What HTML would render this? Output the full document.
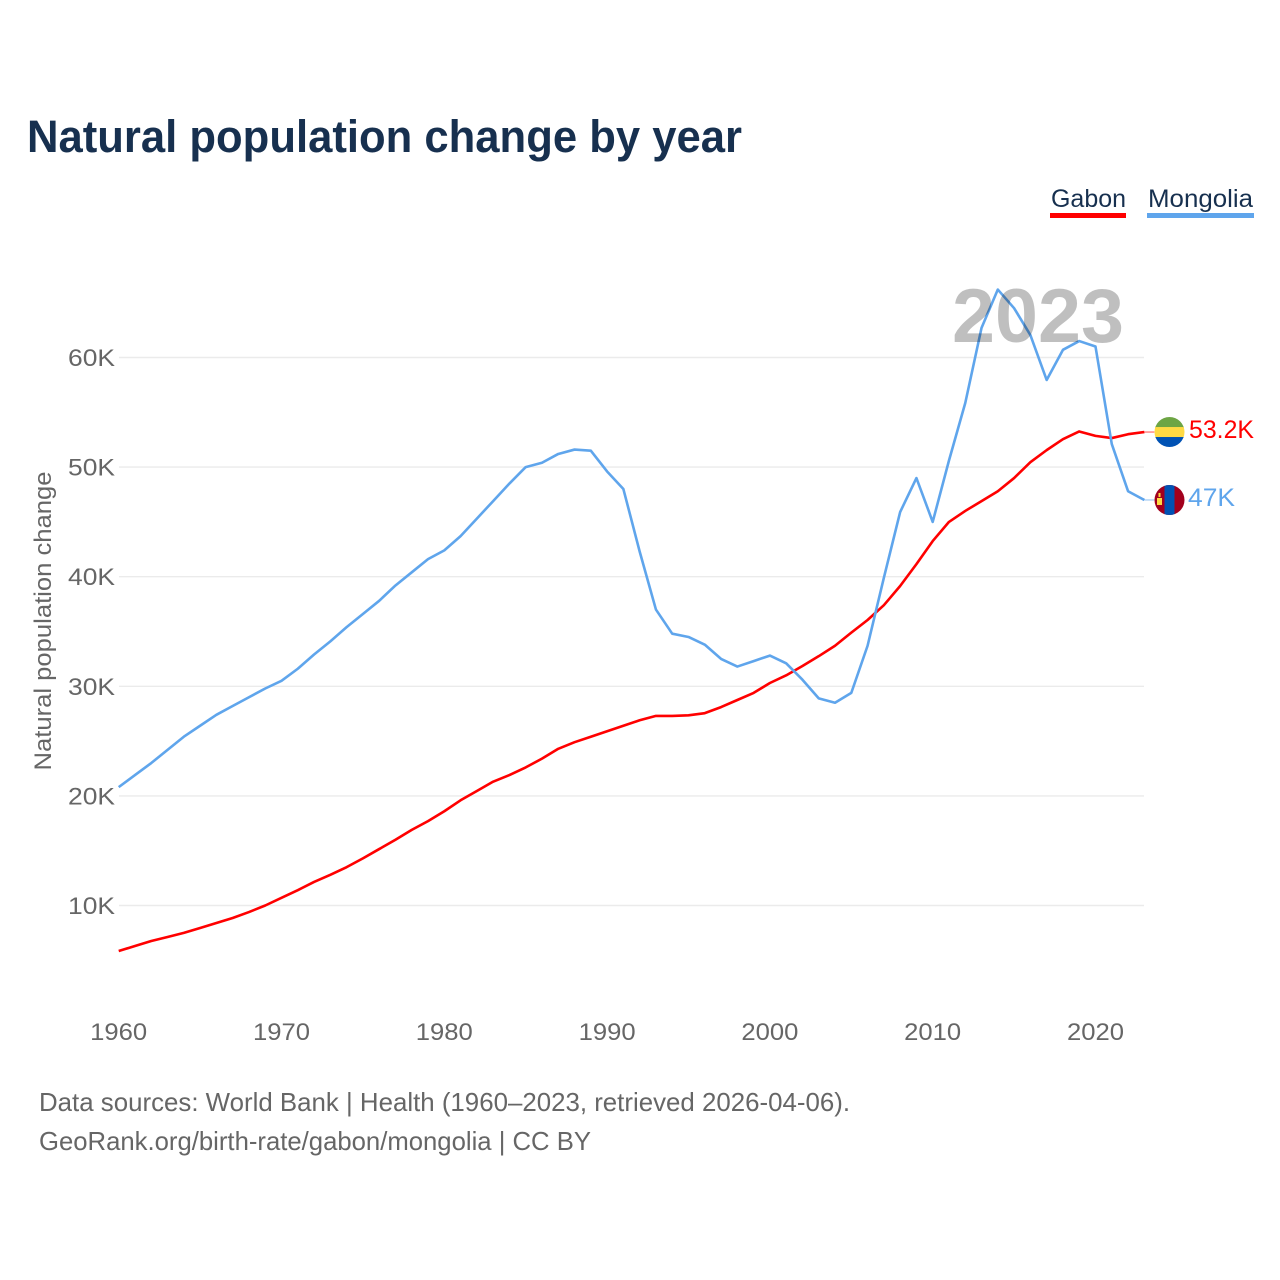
<!DOCTYPE html>
<html lang="en">
<head>
<meta charset="utf-8">
<title>Natural population change by year</title>
<style>
  html, body { margin: 0; padding: 0; background: #fff; }
  #chart { display: block; width: 1280px; height: 1280px; font-family: "Liberation Sans", sans-serif; }
</style>
</head>
<body>
<svg id="chart" xmlns="http://www.w3.org/2000/svg" width="1280" height="1280" viewBox="0 0 1280 1280">
  <rect width="1280" height="1280" fill="#fff"/>
  <text x="27" y="152" font-size="45" font-weight="700" fill="#17304f" textLength="715" lengthAdjust="spacingAndGlyphs">Natural population change by year</text>

  <g>
    <text x="1051" y="207" font-size="25" fill="#17304f" textLength="75" lengthAdjust="spacingAndGlyphs">Gabon</text>
    <rect x="1050" y="213" width="76" height="5" fill="#ff0000"/>
  </g>
  <g>
    <text x="1148" y="207" font-size="25" fill="#17304f" textLength="105" lengthAdjust="spacingAndGlyphs">Mongolia</text>
    <rect x="1147" y="213" width="107" height="5" fill="#5fa5ec"/>
  </g>

  <g id="grid"></g>
  <g id="yTicks"></g>
  <g id="xTicks"></g>
  <text transform="translate(51 621) rotate(-90)" text-anchor="middle" font-size="24" fill="#666" textLength="299" lengthAdjust="spacingAndGlyphs">Natural population change</text>

  <g id="series"></g>

  <text x="1124" y="342" text-anchor="end" font-size="76" font-weight="700" fill="#000" fill-opacity="0.25" textLength="172" lengthAdjust="spacingAndGlyphs">2023</text>

  <g id="flagGabon">
    <clipPath id="clipGabon"><circle cx="0" cy="0" r="15"/></clipPath>
    <g clip-path="url(#clipGabon)">
      <rect x="-15" y="-15" width="30" height="11" fill="#6da544"/>
      <rect x="-15" y="-5" width="30" height="11" fill="#ffda44"/>
      <rect x="-15" y="5" width="30" height="10" fill="#0052b4"/>
    </g>
  </g>
  <g id="flagMongolia">
    <clipPath id="clipMongolia"><circle cx="0" cy="0" r="15"/></clipPath>
    <g clip-path="url(#clipMongolia)">
      <rect x="-15" y="-15" width="30" height="30" fill="#a2001d"/>
      <rect x="-5" y="-15" width="10" height="30" fill="#0052b4"/>
      <rect x="-12.5" y="-2" width="5" height="7" fill="#ffda44"/>
      <rect x="-11" y="-7" width="2" height="4" fill="#ffda44"/>
    </g>
  </g>
  <text id="labelGabon" x="1189" font-size="25" fill="#ff0000" textLength="65" lengthAdjust="spacingAndGlyphs"></text>
  <text id="labelMongolia" x="1188" font-size="25" fill="#5fa5ec" textLength="47" lengthAdjust="spacingAndGlyphs"></text>

  <text x="39" y="1111" font-size="26" fill="#666" textLength="811" lengthAdjust="spacingAndGlyphs">Data sources: World Bank | Health (1960–2023, retrieved 2026-04-06).</text>
  <a><text x="39" y="1150" font-size="26" fill="#666" textLength="552" lengthAdjust="spacingAndGlyphs">GeoRank.org/birth-rate/gabon/mongolia | CC BY</text></a>
</svg>

<script>
const firstYear = 1960;
const xTickYears = [1960, 1970, 1980, 1990, 2000, 2010, 2020];
const yTickValues = [10, 20, 30, 40, 50, 60];
const gabonValues = [
  5.85, 6.3, 6.76, 7.13, 7.5, 7.95, 8.4, 8.86, 9.4, 10,
  10.7, 11.4, 12.15, 12.8, 13.5, 14.3, 15.15, 16, 16.9, 17.7,
  18.6, 19.6, 20.45, 21.3, 21.9, 22.6, 23.4, 24.3, 24.9, 25.4,
  25.9, 26.4, 26.9, 27.3, 27.3, 27.35, 27.55, 28.1, 28.75, 29.4,
  30.3, 31, 31.85, 32.75, 33.7, 34.9, 36.05, 37.4, 39.15, 41.15,
  43.25, 45, 46, 46.9, 47.8, 49, 50.45, 51.55, 52.55, 53.25,
  52.85, 52.65, 53, 53.2
];
const mongoliaValues = [
  20.8, 21.9, 23, 24.2, 25.4, 26.4, 27.4, 28.2, 29, 29.8,
  30.5, 31.6, 32.9, 34.1, 35.4, 36.6, 37.8, 39.2, 40.4, 41.6,
  42.4, 43.7, 45.3, 46.9, 48.5, 50, 50.4, 51.2, 51.6, 51.5,
  49.6, 48, 42.3, 37, 34.8, 34.5, 33.8, 32.5, 31.8, 32.3,
  32.8, 32.1, 30.6, 28.9, 28.5, 29.4, 33.7, 39.9, 45.9, 49,
  45, 50.6, 55.85, 62.7, 66.2, 64.5, 62.05, 57.95, 60.7, 61.5,
  61, 52.1, 47.8, 47
];

const SVG_NS = 'http://www.w3.org/2000/svg';
const xScale = function (year) { return 118.7 + (year - 1960) * 16.28; };
const yScale = function (value) { return 905.5 - (value - 10) * 10.96; };

const gridGroup = document.getElementById('grid');
const yTickGroup = document.getElementById('yTicks');
const xTickGroup = document.getElementById('xTicks');
const seriesGroup = document.getElementById('series');

yTickValues.forEach(function (value) {
  const line = document.createElementNS(SVG_NS, 'line');
  
  
  line.setAttribute('x1', 119);
  line.setAttribute('x2', 1144);
  line.setAttribute('y1', yScale(value));
  line.setAttribute('y2', yScale(value));
  line.setAttribute('stroke', '#ebebeb');
  line.setAttribute('stroke-width', '1.4');
  gridGroup.appendChild(line);

  const label = document.createElementNS(SVG_NS, 'text');
  
  
  label.setAttribute('x', 115);
  label.setAttribute('y', yScale(value) + 8.5);
  label.setAttribute('text-anchor', 'end');
  label.setAttribute('font-size', '24');
  label.setAttribute('fill', '#666');
  label.setAttribute('textLength', '47');
  label.setAttribute('lengthAdjust', 'spacingAndGlyphs');
  label.textContent = value + 'K';
  yTickGroup.appendChild(label);
});

xTickYears.forEach(function (year) {
  const label = document.createElementNS(SVG_NS, 'text');
  
  
  label.setAttribute('x', xScale(year));
  label.setAttribute('y', 1040);
  label.setAttribute('text-anchor', 'middle');
  label.setAttribute('font-size', '24');
  label.setAttribute('fill', '#666');
  label.setAttribute('textLength', '57');
  label.setAttribute('lengthAdjust', 'spacingAndGlyphs');
  label.textContent = year;
  xTickGroup.appendChild(label);
});

function linePoints(values) {
  return values.map(function (value, i) {
    return xScale(firstYear + i).toFixed(2) + ',' + yScale(value).toFixed(2);
  }).join(' ');
}

const gabonLine = document.createElementNS(SVG_NS, 'polyline');


gabonLine.setAttribute('points', linePoints(gabonValues));
gabonLine.setAttribute('fill', 'none');
gabonLine.setAttribute('stroke', '#ff0000');
gabonLine.setAttribute('stroke-width', '2.6');
gabonLine.setAttribute('stroke-linejoin', 'round');
seriesGroup.appendChild(gabonLine);

const mongoliaLine = document.createElementNS(SVG_NS, 'polyline');


mongoliaLine.setAttribute('points', linePoints(mongoliaValues));
mongoliaLine.setAttribute('fill', 'none');
mongoliaLine.setAttribute('stroke', '#5fa5ec');
mongoliaLine.setAttribute('stroke-width', '2.6');
mongoliaLine.setAttribute('stroke-linejoin', 'round');
seriesGroup.appendChild(mongoliaLine);

const lastGabon = gabonValues[gabonValues.length - 1];
const lastMongolia = mongoliaValues[mongoliaValues.length - 1];
const lastX = xScale(firstYear + gabonValues.length - 1);

const gabonConnector = document.createElementNS(SVG_NS, 'line');


gabonConnector.setAttribute('x1', lastX);
gabonConnector.setAttribute('x2', lastX + 10);
gabonConnector.setAttribute('y1', yScale(lastGabon));
gabonConnector.setAttribute('y2', yScale(lastGabon));
gabonConnector.setAttribute('stroke', '#ff0000');
gabonConnector.setAttribute('stroke-width', '1');
gabonConnector.setAttribute('stroke-opacity', '0.7');
seriesGroup.appendChild(gabonConnector);

const mongoliaConnector = document.createElementNS(SVG_NS, 'line');


mongoliaConnector.setAttribute('x1', lastX);
mongoliaConnector.setAttribute('x2', lastX + 10);
mongoliaConnector.setAttribute('y1', yScale(lastMongolia));
mongoliaConnector.setAttribute('y2', yScale(lastMongolia));
mongoliaConnector.setAttribute('stroke', '#5fa5ec');
mongoliaConnector.setAttribute('stroke-width', '1');
mongoliaConnector.setAttribute('stroke-opacity', '0.7');
seriesGroup.appendChild(mongoliaConnector);

document.getElementById('flagGabon').setAttribute('transform', 'translate(1169.5 ' + yScale(lastGabon) + ')');
document.getElementById('flagMongolia').setAttribute('transform', 'translate(1169.5 ' + yScale(lastMongolia) + ')');

const labelGabon = document.getElementById('labelGabon');
labelGabon.setAttribute('y', yScale(lastGabon) + 6);
labelGabon.textContent = (Math.round(lastGabon * 10) / 10) + 'K';

const labelMongolia = document.getElementById('labelMongolia');
labelMongolia.setAttribute('y', yScale(lastMongolia) + 6);
labelMongolia.textContent = (Math.round(lastMongolia * 10) / 10) + 'K';
</script>
</body>
</html>
